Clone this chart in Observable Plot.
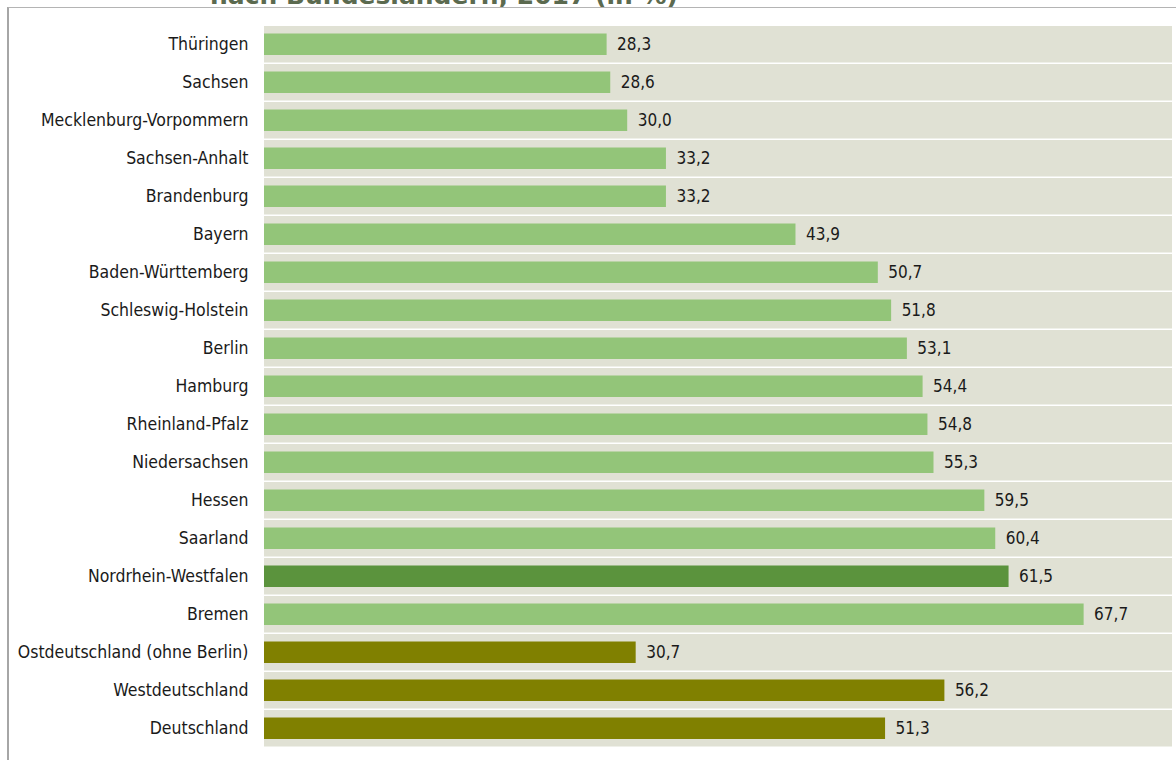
<!DOCTYPE html>
<html><head><meta charset="utf-8">
<script src="https://cdn.jsdelivr.net/npm/d3@7"></script>
<script src="https://cdn.jsdelivr.net/npm/@observablehq/plot@0.6"></script>
<style>
body{margin:0;background:#fff;width:1176px;height:760px;overflow:hidden;position:relative;font-family:"DejaVu Sans Condensed","DejaVu Sans",sans-serif;}
#frame{position:absolute;left:7px;top:7px;width:1180px;height:760px;border-left:2px solid #a6a6a6;border-top:1px solid #b4b4b4;}
#title{position:absolute;left:210px;top:-17px;font:bold 25px "DejaVu Sans",sans-serif;color:#5b6a4f;white-space:nowrap;line-height:25px;}
#chart{position:absolute;left:0;top:0;}
</style></head><body>
<div id="title">nach Bundesländern, 2017 (in %)</div>
<div id="frame"></div>
<div id="chart"></div>
<script>
const regions = ["Thüringen","Sachsen","Mecklenburg-Vorpommern","Sachsen-Anhalt","Brandenburg","Bayern","Baden-Württemberg","Schleswig-Holstein","Berlin","Hamburg","Rheinland-Pfalz","Niedersachsen","Hessen","Saarland","Nordrhein-Westfalen","Bremen","Ostdeutschland (ohne Berlin)","Westdeutschland","Deutschland"];
const values = [28.3,28.6,30.0,33.2,33.2,43.9,50.7,51.8,53.1,54.4,54.8,55.3,59.5,60.4,61.5,67.7,30.7,56.2,51.3];
const groups = ["Land","Land","Land","Land","Land","Land","Land","Land","Land","Land","Land","Land","Land","Land","NRW","Land","Region","Region","Region"];
const groupNames = ["Land","NRW","Region"];
const groupColors = ["#93c579","#5b933d","#808000"];
const xMax = 75;

const data = regions.map((r,i)=>({region:r, value:values[i], group:groups[i]}));
const fmt = v => d3.format(".1f")(v).replace(".", ",");

const chart = Plot.plot({
  width:1176, height:760,
  marginTop:25, marginBottom:11, marginLeft:264, marginRight:4,
  style:{fontFamily:'"DejaVu Sans Condensed","DejaVu Sans",sans-serif', fontSize:"17px", color:"#1a1a1a", background:"transparent"},
  x:{domain:[0,xMax], axis:null},
  y:{domain:regions, padding:0},
  color:{domain:groupNames, range:groupColors},
  marks:[
    Plot.barX(data, {x1:0, x2:xMax, y:"region", fill:"#e0e1d4", insetBottom:1.5}),
    Plot.barX(data, {x:"value", y:"region", fill:"group", insetTop:7.5, insetBottom:9}),
    Plot.text(data, {x:"value", y:"region", text:d=>fmt(d.value), dx:10, dy:-1, textAnchor:"start", fill:"#1a1a1a", fontSize:17}),
    Plot.axisY({tickSize:0, tickPadding:16, label:null, fontSize:17.5, fill:"#1a1a1a", dy:-1})
  ]
});
document.getElementById("chart").appendChild(chart);
</script>
</body></html>
